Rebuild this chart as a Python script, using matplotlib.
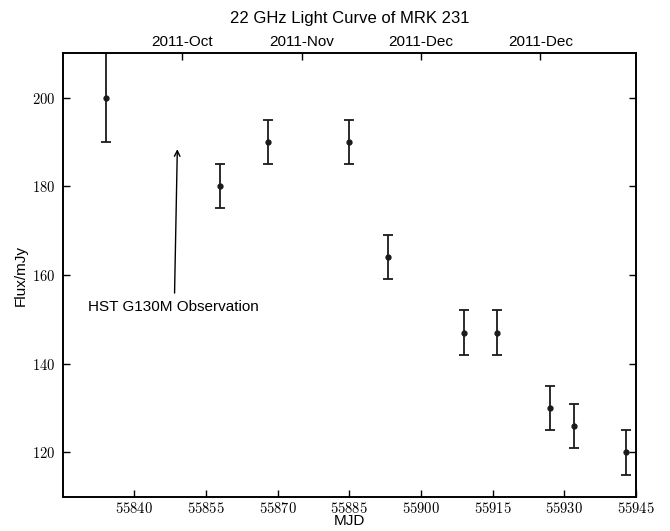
import matplotlib
matplotlib.use('Agg')
import matplotlib.pyplot as plt
from matplotlib.ticker import FuncFormatter

plt.rcParams['font.family'] = ['Liberation Sans', 'DejaVu Sans']
plt.rcParams['mathtext.fontset'] = 'cm'

# Light curve data (MJD, flux in mJy, error)
mjd = [55834, 55858, 55868, 55885, 55893, 55909, 55916, 55927, 55932, 55943]
flux = [200, 180, 190, 190, 164, 147, 147, 130, 126, 120]
flux_err = [10, 5, 5, 5, 5, 5, 5, 5, 5, 5]

bottom_ticks = [55840, 55855, 55870, 55885, 55900, 55915, 55930, 55945]
y_ticks = [120, 140, 160, 180, 200]
top_ticks = [55850, 55875, 55900, 55925]
top_labels = ['2011-Oct', '2011-Nov', '2011-Dec', '2011-Dec']

hst_mjd = 55849

fig = plt.figure(figsize=(6.7, 5.31), dpi=100)
ax = fig.add_axes([0.0936, 0.0646, 0.8557, 0.835])

ax.errorbar(mjd, flux, yerr=flux_err, fmt='o', color='#1a1a1a', markersize=3.5,
            elinewidth=1.3, capsize=3.5, capthick=1.3)

ax.set_xlim(55825, 55945)
ax.set_ylim(110, 210)
ax.set_xticks(bottom_ticks)
ax.set_yticks(y_ticks)
tex = FuncFormatter(lambda v, p: '$%d$' % v)
ax.xaxis.set_major_formatter(tex)
ax.yaxis.set_major_formatter(tex)
ax.tick_params(direction='in', length=5, width=1, labelsize=10.5, right=True)
ax.tick_params(axis='x', pad=3)
ax.tick_params(axis='y', pad=5)
ax.set_xlabel('MJD', fontsize=11, labelpad=-1)
ax.set_ylabel('Flux/mJy', fontsize=11, labelpad=3)

# Observation marker
ax.annotate('', xy=(hst_mjd, 189), xytext=(hst_mjd - 0.6, 155.3),
            arrowprops=dict(arrowstyle='->', color='black', lw=1))
ax.text(55830.2, 152.7, 'HST G130M Observation', fontsize=11, va='center', ha='left')

# Calendar axis on top
top = ax.twiny()
top.set_xlim(ax.get_xlim())
top.set_xticks(top_ticks)
top.set_xticklabels(top_labels, fontsize=11)
top.tick_params(direction='in', length=5, width=1, pad=3)

for spine in list(ax.spines.values()) + list(top.spines.values()):
    spine.set_linewidth(1.2)

top.set_title('22 GHz Light Curve of MRK 231', fontsize=12, pad=9)

fig.savefig('out.png', dpi=100)
plt.close(fig)
